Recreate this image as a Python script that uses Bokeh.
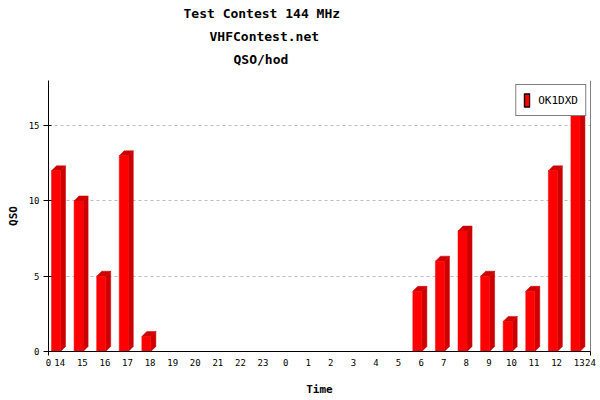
from bokeh.plotting import figure
from bokeh.models import FixedTicker, Range1d, Span, Legend, LegendItem, ColumnDataSource, Title
from bokeh.embed import file_html
from bokeh.resources import INLINE

# ---- data ----
hours = ["14", "15", "16", "17", "18", "19", "20", "21", "22", "23", "0", "1",
         "2", "3", "4", "5", "6", "7", "8", "9", "10", "11", "12", "13"]
qso = [12, 10, 5, 13, 1, 0, 0, 0, 0, 0, 0, 0, 0, 0, 0, 0, 4, 6, 8, 5, 2, 4, 12, 16]
series_name = "OK1DXD"
title_lines = ["Test Contest 144 MHz", "VHFContest.net", "QSO/hod"]
y_ticks = [0, 5, 10, 15]
x_end_labels = ["0", "24"]
x_title = "Time"
y_title = "QSO"

# ---- style / layout ----
MONO = "DejaVu Sans Mono"
FRONT = "#FF0000"
DARK = "#CC0000"
W, H = 600, 400
BL, BR, BT, BB = 48, 10, 80, 49
FW, FH = W - BL - BR, H - BT - BB
n = len(hours)
YMAX = 18

p = figure(width=W, height=H, output_backend="svg", toolbar_location=None,
           x_range=Range1d(0, n), y_range=Range1d(0, YMAX),
           min_border_left=BL, min_border_right=BR, min_border_top=BT, min_border_bottom=BB,
           title_location=None)
p.outline_line_color = None
p.background_fill_color = "white"
p.border_fill_color = "white"

# bar geometry (in slot units)
off, bw = 0.133, 0.4
dx = 5 / (FW / n)      # 5 px depth
dy = 5 / (FH / YMAX)

idx = [i for i, v in enumerate(qso) if v > 0]
x0 = [i + off for i in idx]
x1 = [i + off + bw for i in idx]
vals = [qso[i] for i in idx]

front = ColumnDataSource(dict(left=x0, right=x1, top=vals, bottom=[0] * len(idx)))
side = ColumnDataSource(dict(
    xs=[[a, a + dx, a + dx, a] for a in x1],
    ys=[[0, dy, v + dy, v] for v in vals]))
topf = ColumnDataSource(dict(
    xs=[[a, a + dx, b + dx, b] for a, b in zip(x0, x1)],
    ys=[[v, v + dy, v + dy, v] for v in vals]))

p.patches("xs", "ys", source=side, fill_color=DARK, line_color=DARK, line_width=0.5)
p.patches("xs", "ys", source=topf, fill_color=DARK, line_color=DARK, line_width=0.5)
p.quad(left="left", right="right", top="top", bottom="bottom", source=front,
       fill_color=FRONT, line_color=FRONT, line_width=0.5)

# legend-only swatch renderer (no visible mark)
nan = float("nan")
swatch = p.rect(x=[nan], y=[nan], width=1, height=1, fill_color=FRONT,
                line_color="black", line_width=1.5)

# axes
xt = [0] + [i + 0.5 for i in range(n)] + [n]
overrides = {float(i + 0.5): h for i, h in enumerate(hours)}
overrides[0.0] = x_end_labels[0]
overrides[float(n)] = x_end_labels[1]
p.xaxis.ticker = FixedTicker(ticks=xt, minor_ticks=[0, n])
p.xaxis.major_label_overrides = overrides
p.xaxis.major_tick_out = 0
p.xaxis.major_tick_in = 0
p.xaxis.minor_tick_out = 4
p.xaxis.minor_tick_in = 0
p.xaxis.major_label_standoff = 3
p.xaxis.axis_label = x_title
p.xaxis.axis_label_standoff = 14

p.yaxis.ticker = FixedTicker(ticks=y_ticks, minor_ticks=[])
p.yaxis.major_tick_out = 5
p.yaxis.major_tick_in = 3
p.yaxis.major_label_standoff = 4
p.yaxis.axis_label = y_title
p.yaxis.axis_label_standoff = 6

for ax in (p.xaxis[0], p.yaxis[0]):
    ax.axis_line_color = "black"
    ax.major_tick_line_color = "black"
    ax.minor_tick_line_color = "black"
    ax.major_label_text_font = MONO
    ax.major_label_text_font_size = "9px"
    ax.major_label_text_color = "black"
    ax.axis_label_text_font = MONO
    ax.axis_label_text_font_size = "11px"
    ax.axis_label_text_font_style = "bold"
    ax.axis_label_text_color = "black"

p.xgrid.visible = False
p.ygrid.ticker = FixedTicker(ticks=y_ticks)
p.ygrid.grid_line_color = "#BBBBBB"
p.ygrid.grid_line_dash = "3 3"

# right frame line
p.add_layout(Span(location=n, dimension="height", line_color="black", line_width=1))

# legend
legend = Legend(items=[LegendItem(label=series_name, renderers=[swatch])],
                location="top_right", margin=4, padding=7, spacing=0,
                glyph_width=7, glyph_height=16, label_standoff=8,
                label_text_font=MONO, label_text_font_size="11px",
                label_text_color="black", label_height=16,
                border_line_color="black", border_line_width=1.5,
                background_fill_color="white", background_fill_alpha=1.0)
p.add_layout(legend)

# titles: spacer nearest the frame, then the three lines stacked upward
p.add_layout(Title(text=" ", text_font_size="1px", standoff=8), "above")
title_left_px = [183, 209, 233]
for txt, lx in reversed(list(zip(title_lines, title_left_px))):
    p.add_layout(Title(text=txt, align="left", offset=lx - BL, standoff=6,
                       text_font=MONO, text_font_size="13px", text_font_style="bold",
                       text_color="black"), "above")

open("out.html", "w").write(file_html(p, INLINE))
